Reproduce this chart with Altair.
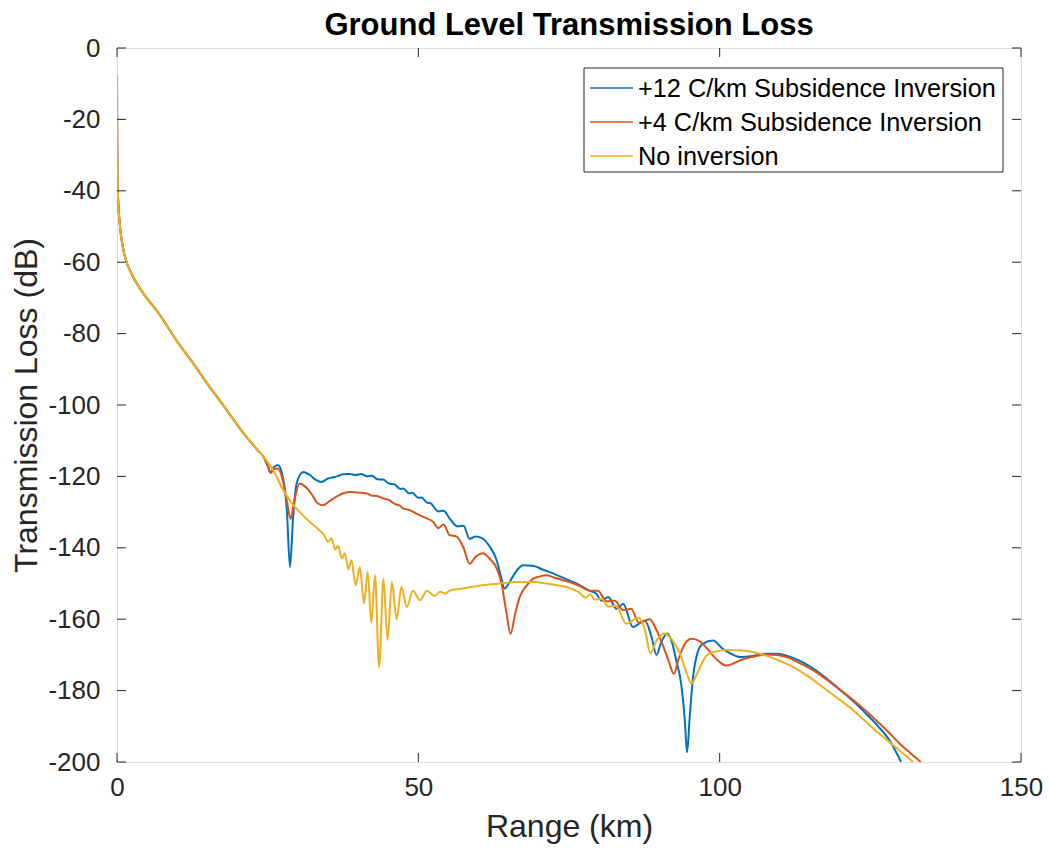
import altair as alt
import pandas as pd

series_names = ["+12 C/km Subsidence Inversion", "+4 C/km Subsidence Inversion", "No inversion"]
series_colors = ["#0072BD", "#D95319", "#EDB120"]

x_ticks = [0, 50, 100, 150]
y_ticks = [0, -20, -40, -60, -80, -100, -120, -140, -160, -180, -200]

# shared near-field decay (all three curves coincide)
common_points = [
    (0.0, -7.6), (0.02, -20), (0.05, -30), (0.1, -38), (0.2, -43), (0.5, -50),
    (1.0, -56), (1.6, -60), (2.5, -63.5), (4.4, -68.8), (7.0, -74.5), (9.9, -82),
    (12.5, -88), (15.4, -95), (17.6, -100), (19.5, -104.5), (21.5, -109),
    (22.5, -111), (23.5, -113), (24.3, -114.5),
]

blue_points = [
    (25.0, -117), (25.5, -119), (26.0, -117.5), (26.7, -116.8), (27.5, -120), (28.2, -130),
    (28.7, -145.4), (29.2, -132), (29.8, -122), (30.9, -118.8), (32.0, -119.6), (33.0, -121),
    (33.9, -121.6), (35.0, -120.6), (36.5, -120), (37.5, -119.4), (38.6, -119.3), (39.6, -119.6),
    (40.5, -119.3), (41.5, -120), (42.3, -119.8), (43.2, -120.8), (44.2, -120.9), (45.1, -122),
    (46.0, -122.2), (47.0, -123.5), (47.5, -123.4), (48.5, -124.8), (49.0, -124.6), (50.0, -126),
    (50.5, -125.9), (51.5, -127.4), (52.0, -127.5), (53.3, -129.8), (54.2, -129.6), (55.2, -131.8),
    (56.5, -134), (57.5, -133.8), (58.5, -137.5), (59.5, -136.8), (60.5, -137.2), (61.9, -139.8),
    (63.0, -143.5), (63.7, -148), (64.3, -151.5), (65.0, -150), (65.7, -148), (66.5, -146),
    (67.4, -144.9), (69.0, -145), (70.5, -146), (71.8, -146.8), (73.5, -148), (75.1, -149.2),
    (76.8, -150.5), (78.4, -152), (79.5, -152.8), (80.4, -154.8), (81.5, -153.8), (82.9, -157.1),
    (84.0, -155.7), (85.6, -162.2), (87.6, -160.4), (88.7, -165), (89.5, -170), (90.3, -166.5),
    (91.3, -164), (92.0, -166), (92.8, -171.6), (93.6, -178), (94.2, -188), (94.6, -197.3),
    (95.0, -188), (95.6, -176), (96.4, -169), (97.2, -166.9), (98.9, -166), (100.5, -168.3),
    (101.7, -169.5), (103.3, -170.6), (105.5, -170.3), (107.7, -169.7), (109.5, -169.7),
    (111.1, -170.2), (113.5, -171.8), (116.0, -174.4), (118.0, -177), (120.4, -180.4),
    (122.5, -183.5), (124.3, -186.5), (126.3, -190), (128.2, -194), (130.1, -200),
]

red_points = [
    (25.0, -117), (25.5, -119), (26.0, -118), (26.7, -117.8), (27.5, -121), (28.2, -127),
    (28.8, -131.9), (29.4, -127), (30.3, -122), (31.2, -122.8), (32.3, -125), (33.3, -127.5),
    (34.2, -128.1), (35.2, -127), (36.8, -125.3), (38.6, -124.4), (40.5, -124.6), (41.5, -124.8),
    (42.3, -125.4), (43.2, -125.5), (44.2, -126.2), (45.1, -126.6), (46.0, -127.6), (47.0, -128.3),
    (47.5, -129), (48.5, -129.4), (49.7, -130.4), (51.0, -131.5), (52.5, -132.8), (53.3, -134.5),
    (54.2, -133.5), (55.2, -136.5), (56.3, -136.8), (57.5, -140), (58.5, -144.5), (59.5, -142.5),
    (60.7, -141.5), (61.8, -143), (62.9, -145.4), (63.8, -150), (64.6, -158), (65.3, -164.1),
    (66.0, -159), (66.8, -153.8), (68.0, -150.5), (69.0, -148.7), (70.2, -148), (71.3, -147.7),
    (72.5, -148.3), (73.8, -149), (75.1, -149.6), (76.8, -150.7), (78.4, -152), (79.8, -152),
    (81.2, -155), (82.6, -154.8), (84.0, -157.5), (85.3, -157.1), (86.6, -161), (88.4, -160),
    (89.5, -163), (90.5, -167), (91.5, -171.5), (92.4, -175.3), (93.2, -171), (94.2, -167),
    (95.3, -165.5), (96.7, -166.2), (97.8, -168), (98.9, -170.2), (100.0, -172), (101.1, -173),
    (102.5, -172.2), (103.9, -171.2), (105.8, -170.4), (107.7, -169.9), (109.5, -170),
    (111.1, -170.6), (113.5, -172.5), (116.0, -174.8), (119.0, -178.5), (121.6, -181.9),
    (124.0, -185.3), (126.0, -188.4), (128.0, -191.6), (129.9, -194.9), (131.7, -197.6),
    (133.4, -200),
]

yellow_points = [
    (25.0, -116), (26.0, -118.5), (27.6, -123.9), (29.0, -127.5), (30.5, -130.3), (31.8, -132.5),
    (33.4, -134.8), (34.4, -136.5), (35.0, -138.3), (35.6, -137.4), (36.2, -140.5), (36.7, -139.5),
    (37.3, -143), (37.8, -141.5), (38.4, -146), (38.9, -143.5), (39.6, -150.5), (40.3, -145.4),
    (41.0, -155.5), (41.6, -146.8), (42.2, -161), (42.8, -147.7), (43.5, -173.5), (44.2, -148.7),
    (44.9, -165.8), (45.6, -149.6), (46.4, -160), (47.2, -151), (48.1, -156.6), (49.1, -152),
    (50.3, -154.7), (51.4, -152), (52.7, -153.5), (53.6, -152.3), (54.5, -152.8), (55.2, -152),
    (57.0, -151.5), (58.8, -151), (60.7, -150.5), (63.5, -150), (66.3, -149.6), (69.0, -149.6),
    (71.3, -150), (73.0, -150.5), (74.6, -151), (76.5, -152.3), (77.8, -154), (78.5, -153),
    (79.3, -154.5), (80.4, -154.3), (81.5, -156.5), (82.8, -156.3), (84.5, -161.3), (86.5, -159.6),
    (87.6, -163), (88.5, -169.5), (89.5, -166), (90.9, -164), (92.2, -166), (93.5, -170),
    (94.5, -175), (95.3, -178), (96.2, -175.5), (97.0, -172.5), (97.8, -170.2), (99.0, -169.2),
    (100.0, -168.8), (101.1, -168.6), (103.9, -168.8), (105.8, -169.3), (107.7, -170.2),
    (110.0, -171.7), (112.2, -173.4), (114.7, -176), (117.1, -179), (119.3, -181.8),
    (121.6, -184.7), (124.0, -188.3), (126.5, -192.1), (129.3, -196), (132.1, -200),
]

rows = []
for name, pts in zip(series_names, [blue_points, red_points, yellow_points]):
    for x, y in common_points + pts:
        rows.append({"x": x, "y": y, "series": name})
df = pd.DataFrame(rows)

W, H = 904, 714
FONT = "Liberation Sans"
AX = "#262626"

xscale = alt.Scale(domain=[0, 150], nice=False, zero=False)
yscale = alt.Scale(domain=[-200, 0], nice=False, zero=False)

x_axis = alt.Axis(values=x_ticks, title="Range (km)", tickSize=0, domain=False, grid=False,
                  labelFontSize=26, labelPadding=12, labelFont=FONT, labelColor=AX,
                  labelFlush=False, titleFont=FONT, titleFontSize=32, titleFontWeight="normal",
                  titleColor=AX, titleX=W / 2, titleY=64, titleBaseline="middle", titleAlign="center")
y_axis = alt.Axis(values=y_ticks, title="Transmission Loss (dB)", tickSize=0, domain=False, grid=False,
                  labelFontSize=26, labelPadding=17, labelFont=FONT, labelColor=AX,
                  labelFlush=False, labelExpr="toString(datum.value)",
                  titleFont=FONT, titleFontSize=32, titleFontWeight="normal", titleColor=AX,
                  titleX=-91, titleY=H / 2, titleAngle=-90, titleBaseline="middle", titleAlign="center")

X = alt.X("x:Q", scale=xscale, axis=x_axis)
Y = alt.Y("y:Q", scale=yscale, axis=y_axis)

color = alt.Color("series:N", scale=alt.Scale(domain=series_names, range=series_colors), legend=None)

base = alt.Chart(df).mark_line(strokeWidth=2, clip=True, interpolate="monotone").encode(
    x=X, y=Y, color=color)
lines = [base.transform_filter(alt.datum.series == n) for n in series_names]

xt = pd.DataFrame({"x": x_ticks})
yt = pd.DataFrame({"y": y_ticks})
TL = 9
tick_left = alt.Chart(yt).mark_rule(color=AX, strokeWidth=1).encode(
    y=Y, x=alt.value(0), x2=alt.value(TL))
tick_right = alt.Chart(yt).mark_rule(color=AX, strokeWidth=1).encode(
    y=Y, x=alt.value(W - TL), x2=alt.value(W))
tick_bottom = alt.Chart(xt).mark_rule(color=AX, strokeWidth=1).encode(
    x=X, y=alt.value(H - TL), y2=alt.value(H))
tick_top = alt.Chart(xt).mark_rule(color=AX, strokeWidth=1).encode(
    x=X, y=alt.value(0), y2=alt.value(TL))

# legend drawn inside the axes, MATLAB style
LX, LY, LW, LH, ROW = 467, 20, 419, 104, 34
legend_layers = [
    alt.Chart(pd.DataFrame({"series": [series_names[0]]})).mark_rect(
        fill="white", stroke=AX, strokeWidth=1).encode(
        x=alt.value(LX), x2=alt.value(LX + LW), y=alt.value(LY), y2=alt.value(LY + LH))
]
for i, (n, c) in enumerate(zip(series_names, series_colors)):
    d = pd.DataFrame({"series": [n]})
    yy = LY + 20 + ROW * i
    legend_layers.append(alt.Chart(d).mark_rule(color=c, strokeWidth=1.5).encode(
        x=alt.value(LX + 6), x2=alt.value(LX + 49), y=alt.value(yy)))
    legend_layers.append(alt.Chart(d).mark_text(
        align="left", baseline="middle", font=FONT, fontSize=25.3, color="#000000").encode(
        x=alt.value(LX + 54), y=alt.value(yy + 1), text="series:N"))

chart = alt.layer(*lines, tick_left, tick_right, tick_bottom, tick_top, *legend_layers).properties(
    width=W, height=H,
    title=alt.TitleParams("Ground Level Transmission Loss", font=FONT, fontSize=31,
                          fontWeight="bold", color="#000000", offset=-7, anchor="middle"),
    autosize=alt.AutoSizeParams(type="none"),
    padding={"left": 117, "top": 48, "right": 28, "bottom": 90},
).configure_view(stroke=AX, strokeWidth=1).configure(background="white")

chart.save("out.html", embed_options={"renderer": "svg", "actions": False})
